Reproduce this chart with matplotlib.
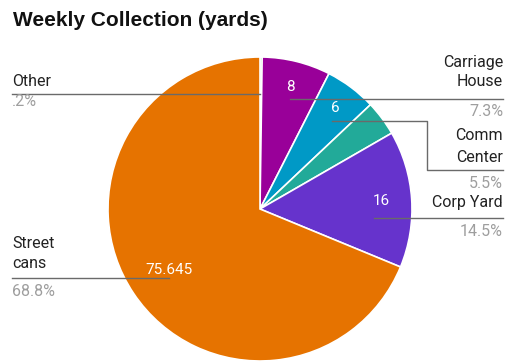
import numpy as np
import matplotlib
matplotlib.use("Agg")
import matplotlib.pyplot as plt

W, H = 505, 362

# ---- data ----
categories = ["Other", "Carriage House", "Comm Center", "", "Corp Yard", "Street cans"]
values = [0.25, 8, 6, 4.1, 16, 75.645]
value_labels = ["", "8", "6", "", "16", "75.645"]
pct_labels = [".2%", "7.3%", "5.5%", "", "14.5%", "68.8%"]
colors = ["#109618", "#990099", "#0099c6", "#22aa99", "#6633cc", "#e67300"]

fig = plt.figure(figsize=(W / 100, H / 100), dpi=100)
ax = fig.add_axes([0, 0, 1, 1])

cx, cy, R = 260, 209, 152
def Y(y):
    return H - y

wedges, _ = ax.pie(values, colors=colors, startangle=90, counterclock=False,
                   center=(cx, Y(cy)), radius=R,
                   wedgeprops=dict(edgecolor="white", linewidth=1.2))
ax.set_xlim(0, W)
ax.set_ylim(0, H)
ax.set_aspect("equal")
ax.axis("off")

# inner value labels
fr = {1: 0.83, 2: 0.83, 4: 0.80, 5: 0.72}
for i, w in enumerate(wedges):
    if not value_labels[i]:
        continue
    mid = np.deg2rad((w.theta1 + w.theta2) / 2)
    d = fr[i] * R
    ax.text(cx + d * np.cos(mid), Y(cy) + d * np.sin(mid), value_labels[i],
            ha="center", va="center", color="white", fontsize=11, family="Roboto")

tcol = "#222222"
pcol = "#9e9e9e"
lcol = "#6a6a6a"
fs = 11.5
fam = "Roboto"

def anchor_x(ly, side, f=0.75):
    dy = ly - cy
    r = f * R
    dx = np.sqrt(max(r * r - dy * dy, 0))
    return cx + side * dx

# Title
ax.text(13, Y(20), "Weekly Collection (yards)", ha="left", va="center",
        fontsize=15, fontweight="bold", family="Liberation Sans", color="#111111")

# Other (left)
ly = 94
ax.plot([12, anchor_x(ly, -1)], [Y(ly), Y(ly)], color=lcol, lw=1)
ax.text(12, Y(82), categories[0], ha="left", va="center", fontsize=fs, family=fam, color=tcol)
ax.text(12, Y(102), pct_labels[0], ha="left", va="center", fontsize=fs, family=fam, color=pcol)

# Street cans (left)
ly = 278
ax.plot([12, anchor_x(ly, -1)], [Y(ly), Y(ly)], color=lcol, lw=1)
ax.text(12, Y(244), "Street", ha="left", va="center", fontsize=fs, family=fam, color=tcol)
ax.text(12, Y(264), "cans", ha="left", va="center", fontsize=fs, family=fam, color=tcol)
ax.text(12, Y(292), pct_labels[5], ha="left", va="center", fontsize=fs, family=fam, color=pcol)

xr = 503
# Carriage House
ly = 99
ax.plot([anchor_x(ly, 1), xr], [Y(ly), Y(ly)], color=lcol, lw=1)
ax.text(xr, Y(63), "Carriage", ha="right", va="center", fontsize=fs, family=fam, color=tcol)
ax.text(xr, Y(82), "House", ha="right", va="center", fontsize=fs, family=fam, color=tcol)
ax.text(xr, Y(111), pct_labels[1], ha="right", va="center", fontsize=fs, family=fam, color=pcol)

# Comm Center
ly = 121
ax.plot([anchor_x(ly, 1), 427, 427, xr], [Y(ly), Y(ly), Y(170), Y(170)], color=lcol, lw=1)
ax.text(xr, Y(135), "Comm", ha="right", va="center", fontsize=fs, family=fam, color=tcol)
ax.text(xr, Y(157), "Center", ha="right", va="center", fontsize=fs, family=fam, color=tcol)
ax.text(xr, Y(183), pct_labels[2], ha="right", va="center", fontsize=fs, family=fam, color=pcol)

# Corp Yard
ly = 218
ax.plot([anchor_x(ly, 1), xr], [Y(ly), Y(ly)], color=lcol, lw=1)
ax.text(xr, Y(203), categories[4], ha="right", va="center", fontsize=fs, family=fam, color=tcol)
ax.text(xr, Y(231), pct_labels[4], ha="right", va="center", fontsize=fs, family=fam, color=pcol)

fig.savefig("out.png", dpi=100)
